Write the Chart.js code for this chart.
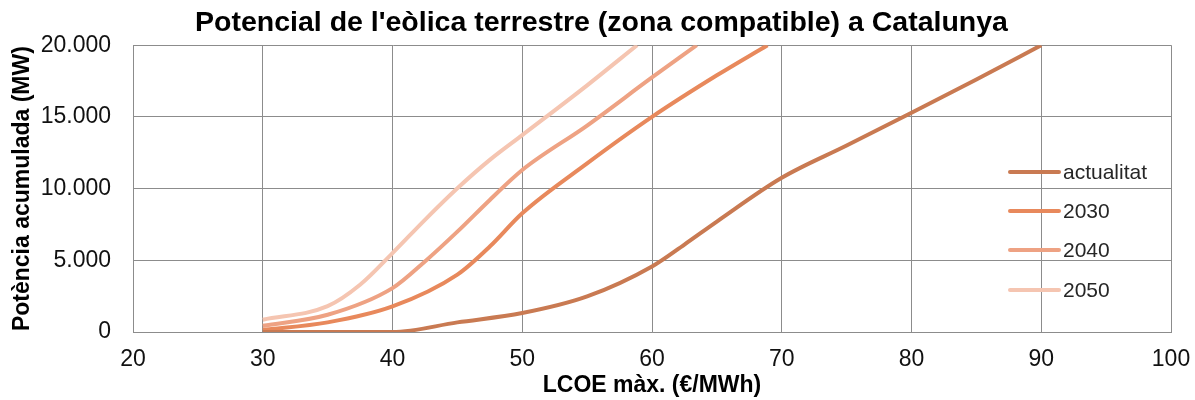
<!DOCTYPE html>
<html>
<head>
<meta charset="utf-8">
<script src="https://cdn.jsdelivr.net/npm/chart.js@4.4.0/dist/chart.umd.min.js"></script>
<style>
  html, body { margin: 0; padding: 0; background: #fff; }
  #wrap { width: 1195px; height: 400px; }
</style>
</head>
<body>
<div id="wrap"><canvas id="c" width="1195" height="400"></canvas></div>
<script>
// LCOE màx. (€/MWh) -> potència acumulada (MW)
const seriesNames = ["actualitat", "2030", "2040", "2050"];
const seriesColors = ["#c97a52", "#e8895c", "#eea283", "#f5c5b1"];

const xActualitat = [30, 35, 40, 45, 50, 55, 60, 62.5, 65, 70, 75, 80, 85, 90];
const yActualitat = [0, 0, 0, 670, 1320, 2480, 4570, 6100, 7700, 10750, 13000, 15290, 17610, 20000];

const x2030 = [30, 35, 40, 45, 47.5, 50, 55, 60, 65, 68.9];
const y2030 = [150, 670, 1780, 4000, 5960, 8280, 11760, 15000, 17900, 20000];

const x2040 = [30, 35, 40, 42.5, 45, 47.5, 50, 55, 60, 63.45];
const y2040 = [440, 1200, 3060, 4920, 7000, 9210, 11300, 14400, 17750, 20000];

const x2050 = [30, 35, 37.5, 40, 42.5, 45, 47.5, 50, 55, 58.85];
const y2050 = [860, 1800, 3290, 5500, 7820, 10020, 12000, 13730, 17200, 20000];

const xTicks = [20, 30, 40, 50, 60, 70, 80, 90, 100];
const yTicks = [0, 5000, 10000, 15000, 20000];

const FONT = "'Liberation Sans', Arial, sans-serif";

function pts(xs, ys) {
    return xs.map((x, i) => ({x: x, y: ys[i]}));
}

function thousands(v) {
    return String(v).replace(/\B(?=(\d{3})+(?!\d))/g, ".");
}

const allX = [xActualitat, x2030, x2040, x2050];
const allY = [yActualitat, y2030, y2040, y2050];

// legend drawn inside the plot, like the original
const insideLegend = {
    id: "insideLegend",
    afterDatasetsDraw(chart) {
        const ctx = chart.ctx;
        const rows = [172, 211, 250, 290];
        ctx.save();
        ctx.font = "21px " + FONT;
        ctx.textBaseline = "middle";
        ctx.fillStyle = "#262626";
        chart.data.datasets.forEach((ds, i) => {
            ctx.strokeStyle = ds.borderColor;
            ctx.lineWidth = 4;
            ctx.lineCap = "round";
            ctx.beginPath();
            ctx.moveTo(1010, rows[i]);
            ctx.lineTo(1059, rows[i]);
            ctx.stroke();
            ctx.fillText(ds.label, 1063, rows[i] + 1);
        });
        ctx.restore();
    }
};

new Chart(document.getElementById("c"), {
    type: "line",
    data: {
        datasets: seriesNames.map((name, i) => ({
            label: name,
            data: pts(allX[i], allY[i]),
            borderColor: seriesColors[i],
            backgroundColor: seriesColors[i],
            borderWidth: 4,
            pointRadius: 0,
            cubicInterpolationMode: "monotone",
            fill: false
        }))
    },
    options: {
        responsive: false,
        animation: false,
        layout: {padding: {left: 8, right: 0, top: 6, bottom: 0}},
        plugins: {
            legend: {display: false},
            tooltip: {enabled: false},
            title: {
                display: true,
                text: "Potencial de l'eòlica terrestre (zona compatible) a Catalunya",
                color: "#000",
                font: {family: FONT, size: 28.5, weight: "bold"},
                padding: {top: 0, bottom: 5}
            }
        },
        scales: {
            x: {
                type: "linear",
                min: 20,
                max: 100,
                afterBuildTicks: (s) => { s.ticks = xTicks.map(v => ({value: v})); },
                afterFit: (s) => { s.height = 68; s.paddingRight = 24; s.paddingLeft = 0; },
                grid: {color: "#8c8c8c", lineWidth: 1, drawTicks: false},
                border: {color: "#8c8c8c"},
                ticks: {
                    color: "#111",
                    padding: 14,
                    maxRotation: 0,
                    font: {family: FONT, size: 23}
                },
                title: {
                    display: true,
                    text: "LCOE màx. (€/MWh)",
                    color: "#000",
                    font: {family: FONT, size: 23, weight: "bold"},
                    padding: {top: 0, bottom: 1}
                }
            },
            y: {
                min: 0,
                max: 20000,
                afterBuildTicks: (s) => { s.ticks = yTicks.map(v => ({value: v})); },
                afterFit: (s) => { s.width = 125; },
                grid: {color: "#8c8c8c", lineWidth: 1, drawTicks: false},
                border: {color: "#8c8c8c"},
                ticks: {
                    color: "#111",
                    padding: 22,
                    font: {family: FONT, size: 23},
                    callback: (v) => thousands(v)
                },
                title: {
                    display: true,
                    text: "Potència acumulada (MW)",
                    color: "#000",
                    font: {family: FONT, size: 23, weight: "bold"},
                    padding: {top: 1, bottom: 0}
                }
            }
        }
    },
    plugins: [insideLegend]
});
</script>
</body>
</html>
